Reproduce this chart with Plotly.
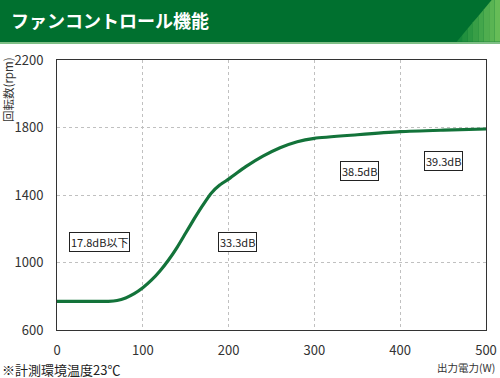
import plotly.graph_objects as go

# Data
power_w = [0, 60, 70, 80, 90, 100, 110, 120, 130, 140, 150, 160, 170, 180, 190, 200,
           210, 220, 240, 260, 280, 300, 350, 400, 450, 500]
rpm = [770, 770, 775, 790, 815, 850, 895, 950, 1015, 1090, 1175, 1260, 1340, 1412, 1460, 1494,
       1532, 1568, 1630, 1680, 1716, 1736, 1757, 1775, 1784, 1791]
noise_labels = ["17.8dB以下", "33.3dB", "38.5dB", "39.3dB"]
noise_x = [50, 210, 352, 450]
noise_y = [1119, 1120, 1544, 1603]
x_ticks = [0, 100, 200, 300, 400, 500]
y_ticks = [600, 1000, 1400, 1800, 2200]

W, H = 500, 378
L, R, T, B = 57, 14, 60, 48
FONT = "Noto Sans CJK JP"

def px(p):
    return (p - L) / (W - L - R)

def py(q):
    return (H - B - q) / (H - T - B)

fig = go.Figure()
fig.add_trace(go.Scatter(
    x=power_w, y=rpm, mode="lines",
    line=dict(color="#13733a", width=3.2, shape="spline", smoothing=0.6),
    hoverinfo="skip", showlegend=False,
))

shapes = []
# title bar
shapes.append(dict(type="rect", xref="paper", yref="paper", x0=px(0), x1=px(W), y0=py(42), y1=py(0),
                   fillcolor="#00702f", line=dict(width=0), layer="above"))
# gradient triangle on the right
steps = 8
x_left, x_right = 456.7, 500


def diag_y(xx):
    return 41.7 - (xx - 456.7) * 41.7 / 35.0


for i in range(steps):
    a = x_left + (x_right - x_left) * i / steps
    b = x_left + (x_right - x_left) * (i + 1) / steps
    ya, yb = diag_y(a), diag_y(b)
    t = (i + 0.5) / steps
    r = int(0x10 + (0x6c - 0x10) * t)
    g = int(0x85 + (0xc0 - 0x85) * t)
    bl = int(0x38 + (0x5a - 0x38) * t)
    col = f"rgb({r},{g},{bl})"
    if yb < 0 and ya > 0:
        pts = [(a, 41.7), (b, 41.7), (b, 0), (491.7, 0), (a, ya)]
    else:
        pts = [(a, 41.7), (b, 41.7), (b, max(yb, 0)), (a, max(ya, 0))]
    path = "M " + " L ".join(f"{px(u)},{py(v)}" for u, v in pts) + " Z"
    shapes.append(dict(type="path", xref="paper", yref="paper", path=path,
                       fillcolor=col, line=dict(width=0), layer="above"))
# light line under bar
shapes.append(dict(type="rect", xref="paper", yref="paper", x0=px(0), x1=px(W), y0=py(44), y1=py(42),
                   fillcolor="#7fbf86", line=dict(width=0), layer="above"))

annotations = [
    dict(x=px(9), y=py(20), xref="paper", yref="paper", xanchor="left", yanchor="middle",
         text="<b>ファンコントロール機能</b>", showarrow=False,
         font=dict(family=FONT, size=18, color="white")),
]

for lab, xx, yy in zip(noise_labels, noise_x, noise_y):
    annotations.append(dict(x=xx, y=yy, xref="x", yref="y", text=lab, showarrow=False,
                            font=dict(family=FONT, size=11, color="#222"),
                            bordercolor="#222", borderwidth=1, borderpad=1, bgcolor="white"))

annotations.append(dict(x=px(8), y=py(90), xref="paper", yref="paper", text="回転数(rpm)",
                        textangle=-90, showarrow=False, xanchor="center", yanchor="middle",
                        font=dict(family=FONT, size=11.5, color="#333")))
annotations.append(dict(x=px(497), y=py(367), xref="paper", yref="paper", text="出力電力(W)",
                        showarrow=False, xanchor="right", yanchor="middle",
                        font=dict(family=FONT, size=10.5, color="#333")))
annotations.append(dict(x=px(0), y=py(369), xref="paper", yref="paper", text="※計測環境温度23℃",
                        showarrow=False, xanchor="left", yanchor="middle",
                        font=dict(family=FONT, size=13, color="#222")))

axis_common = dict(showline=True, linecolor="#333", linewidth=1, mirror=True,
                   showgrid=True, gridcolor="#c0c0c0", griddash="dot", gridwidth=1,
                   zeroline=False, ticks="", automargin=False,
                   tickfont=dict(family=FONT, size=13, color="#333"))

fig.update_layout(
    width=W, height=H,
    margin=dict(l=L, r=R, t=T, b=B, autoexpand=False),
    paper_bgcolor="white", plot_bgcolor="white",
    shapes=shapes, annotations=annotations,
    xaxis=dict(range=[0, 500], tickvals=x_ticks, ticklabelstandoff=8, **axis_common),
    yaxis=dict(range=[600, 2200], tickvals=y_ticks, ticklabelstandoff=10, **axis_common),
)

fig.write_html("out.html", config={"displayModeBar": False},
               post_script="document.body.style.margin='0';document.body.style.overflow='hidden';")
